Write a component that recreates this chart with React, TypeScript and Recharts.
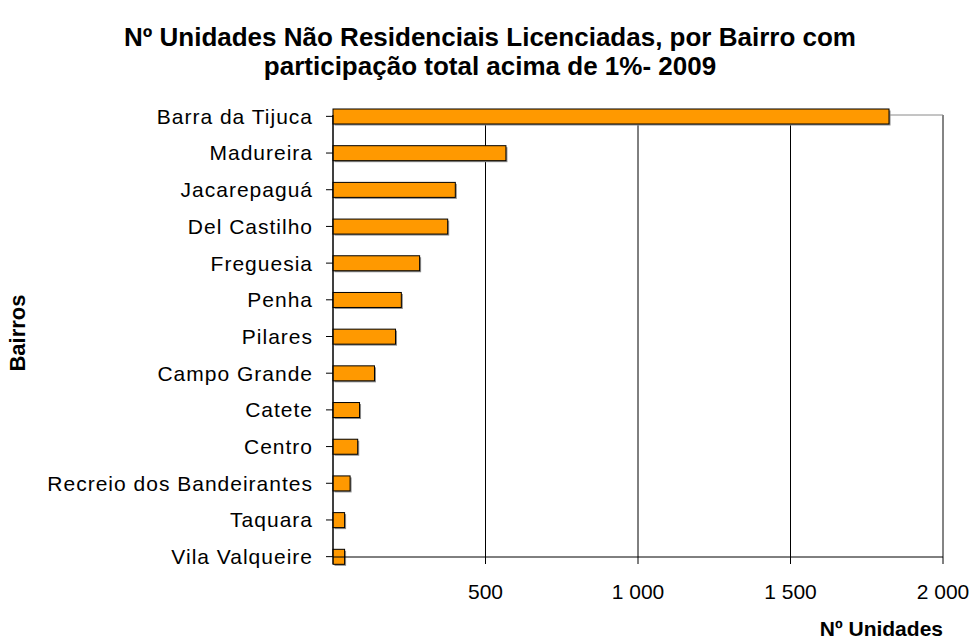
import React from 'react';
import { BarChart, Bar, XAxis, YAxis, CartesianGrid } from 'recharts';

const categories = [
  'Barra da Tijuca',
  'Madureira',
  'Jacarepaguá',
  'Del Castilho',
  'Freguesia',
  'Penha',
  'Pilares',
  'Campo Grande',
  'Catete',
  'Centro',
  'Recreio dos Bandeirantes',
  'Taquara',
  'Vila Valqueire',
];
const values = [1823, 567, 401, 376, 284, 224, 205, 136, 87, 81, 56, 38, 38];
const xTicks = [0, 500, 1000, 1500, 2000];
const xMax = 2000;

const title1 = 'Nº Unidades Não Residenciais Licenciadas, por Bairro com';
const title2 = 'participação total acima de 1%- 2009';
const xTitle = 'Nº Unidades';
const yTitle = 'Bairros';

const data = categories.map((name, i) => ({ name, value: values[i] }));

const FONT = '"Liberation Sans", Arial, Helvetica, sans-serif';

const fmt = (v: number) =>
  v === 0 ? '' : String(v).replace(/\B(?=(\d{3})+(?!\d))/g, ' ');

const ShadowBar = (props: any) => {
  const { x, y, width, height } = props;
  if (!width || width <= 0) return null;
  return (
    <g>
      <rect x={x + 1.5} y={y + 1.5} width={width} height={height} fill="#8c8c8c" />
      <rect x={x} y={y} width={width} height={height} fill="#FF9900" stroke="#000" strokeWidth={1} />
    </g>
  );
};

const topEdge = (args: any) => [args.offset.top];
const rightEdge = (args: any) => [args.offset.left + args.offset.width];

export default function App() {
  return (
    <div style={{ position: 'absolute', left: 0, top: 0, width: 980, height: 640, background: '#fff' }}>
      <div
        style={{
          position: 'absolute',
          left: 0,
          top: 23,
          width: 980,
          textAlign: 'center',
          fontFamily: FONT,
          fontWeight: 'bold',
          fontSize: 26,
          lineHeight: '29px',
          color: '#000',
        }}
      >
        <div>{title1}</div>
        <div>{title2}</div>
      </div>
      <BarChart
        width={980}
        height={640}
        data={data}
        layout="vertical"
        margin={{ top: 115, right: 37, bottom: 0, left: 0 }}
        style={{ position: 'absolute', left: 0, top: 0 }}
      >
        <CartesianGrid horizontal={false} vertical={true} stroke="#000" strokeDasharray="" />
        <CartesianGrid
          horizontal={true}
          vertical={true}
          stroke="#8a8a8a"
          horizontalCoordinatesGenerator={topEdge}
          verticalCoordinatesGenerator={rightEdge}
        />
        <XAxis
          type="number"
          domain={[0, xMax]}
          ticks={xTicks}
          height={83}
          tickSize={7}
          tickMargin={20}
          tickFormatter={fmt}
          axisLine={{ stroke: '#000' }}
          tickLine={{ stroke: '#000' }}
          tick={{ fontSize: 21, fill: '#000', fontFamily: FONT }}
          label={{
            content: (p: any) => {
              const vb = p.viewBox;
              return (
                <text
                  x={vb.x + vb.width}
                  y={vb.y + 79}
                  textAnchor="end"
                  fontSize={21}
                  fontWeight="bold"
                  fontFamily={FONT}
                  fill="#000"
                >
                  {xTitle}
                </text>
              );
            },
          }}
        />
        <YAxis
          type="category"
          dataKey="name"
          width={333}
          interval={0}
          tickSize={7}
          tickMargin={13}
          padding={{ top: -17, bottom: -18 }}
          axisLine={{ stroke: '#000' }}
          tickLine={{ stroke: '#000' }}
          tick={{ fontSize: 21, fill: '#000', fontFamily: FONT, letterSpacing: 1 }}
          label={{
            content: (p: any) => {
              const vb = p.viewBox;
              const cx = 17;
              const cy = vb.y + vb.height / 2 - 3;
              return (
                <text
                  x={cx}
                  y={cy}
                  transform={`rotate(-90 ${cx} ${cy})`}
                  textAnchor="middle"
                  dominantBaseline="central"
                  fontSize={22}
                  fontWeight="bold"
                  fontFamily={FONT}
                  fill="#000"
                >
                  {yTitle}
                </text>
              );
            },
          }}
        />
        <Bar dataKey="value" barSize={15} isAnimationActive={false} shape={ShadowBar} />
      </BarChart>
    </div>
  );
}
